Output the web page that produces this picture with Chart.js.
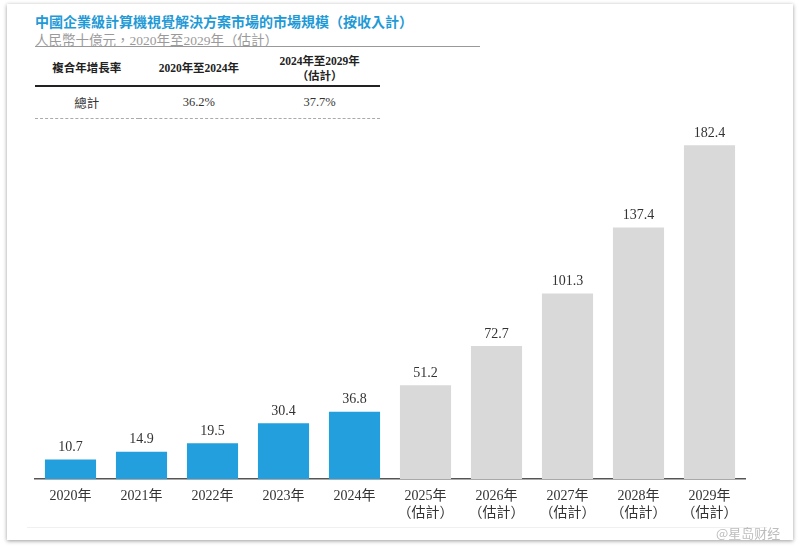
<!DOCTYPE html>
<html lang="zh-Hant">
<head>
<meta charset="UTF-8">
<title>中國企業級計算機視覺解決方案市場的市場規模</title>
<script src="https://cdn.jsdelivr.net/npm/chart.js"></script>
<style>
  html, body { margin: 0; padding: 0; background: #fff; }
  body { width: 800px; height: 550px; position: relative; overflow: hidden;
         font-family: "Liberation Serif", "Noto Sans CJK TC", serif; }
  .card { position: absolute; left: 7px; top: 4px; width: 786px; height: 536px;
          background: #fff; box-shadow: 0 1px 4px rgba(0, 0, 0, 0.4); }
  .inner-line { position: absolute; left: 20px; top: 523px; width: 740px; height: 1px; background: #f0f0f0; }
  canvas { position: absolute; left: 0; top: 0; }
  .title { position: absolute; left: 35px; top: 11px; font-size: 14px; font-weight: bold;
           color: #1f9ad6; white-space: nowrap; }
  .subtitle { position: absolute; left: 35px; top: 29px; font-size: 13.5px; color: #9a9a9a;
              white-space: nowrap; }
  .rule { position: absolute; left: 35px; top: 46px; width: 445px; height: 1px; background: #999; }
  table { position: absolute; left: 35px; top: 52px; width: 345px; border-collapse: collapse;
          font-size: 11.5px; color: #222; }
  th { font-weight: bold; height: 33px; padding: 0; border-bottom: 2px solid #222; line-height: 15px; vertical-align: middle; }
  td { height: 31px; padding: 0; text-align: center; border-bottom: 1px dashed #aaa; color: #333; font-size: 12.5px; }
  .mark { position: absolute; left: 716px; top: 523px; font-size: 13px; color: #bdbdbd;
          font-family: "Noto Sans CJK SC", sans-serif; }
</style>
</head>
<body>
<div class="card"><div class="inner-line"></div></div>
<div class="title">中國企業級計算機視覺解決方案市場的市場規模（按收入計）</div>
<div class="subtitle">人民幣十億元，2020年至2029年（估計）</div>
<div class="rule"></div>
<table id="cagr"></table>
<canvas id="chart" width="800" height="550"></canvas>
<div class="mark">@星岛财经</div>

<script>
// Data
const years = ["2020年", "2021年", "2022年", "2023年", "2024年",
               "2025年", "2026年", "2027年", "2028年", "2029年"];
const isEstimate = [false, false, false, false, false, true, true, true, true, true];
const marketSize = [10.7, 14.9, 19.5, 30.4, 36.8, 51.2, 72.7, 101.3, 137.4, 182.4];
const cagrHeader = ["複合年增長率", "2020年至2024年", "2024年至2029年<br>（估計）"];
const cagrRow = ["總計", "36.2%", "37.7%"];

const blue = "#229fdc";
const grey = "#d9d9d9";

// CAGR table
const colWidths = ["30%", "35%", "35%"];
document.getElementById("cagr").innerHTML =
  "<tr>" + cagrHeader.map((h, i) => `<th style="width:${colWidths[i]}">${h}</th>`).join("") + "</tr>" +
  "<tr>" + cagrRow.map((c) => `<td>${c}</td>`).join("") + "</tr>";

const labels = years.map((y, i) => (isEstimate[i] ? [y, "（估計）"] : y));

// Draw value labels on top of each bar
const valueLabels = {
  id: "valueLabels",
  afterDatasetsDraw(chart) {
    const ctx = chart.ctx;
    const meta = chart.getDatasetMeta(0);
    ctx.save();
    ctx.font = '14px "Liberation Serif", serif';
    ctx.fillStyle = "#333";
    ctx.textAlign = "center";
    ctx.textBaseline = "bottom";
    meta.data.forEach((bar, i) => {
      ctx.fillText(marketSize[i].toFixed(1), bar.x, bar.y - 5);
    });
    ctx.restore();
  },
};

new Chart(document.getElementById("chart"), {
  type: "bar",
  data: {
    labels: labels,
    datasets: [{
      data: marketSize,
      backgroundColor: isEstimate.map((e) => (e ? grey : blue)),
      barPercentage: 0.72,
      categoryPercentage: 1.0,
    }],
  },
  options: {
    responsive: false,
    animation: false,
    layout: { padding: { left: 35, right: 55, top: 113, bottom: 21 } },
    plugins: { legend: { display: false }, tooltip: { enabled: false } },
    scales: {
      x: {
        grid: { display: false },
        border: { display: true, color: "#555", width: 1.5 },
        ticks: {
          color: "#333",
          padding: 1,
          maxRotation: 0,
          font: { family: '"Liberation Serif", "Noto Sans CJK TC", serif', size: 14, lineHeight: 1.2 },
        },
        afterFit(scale) { scale.height = 50; },
      },
      y: { display: false, min: 0, max: 200 },
    },
  },
  plugins: [valueLabels],
});
</script>
</body>
</html>
